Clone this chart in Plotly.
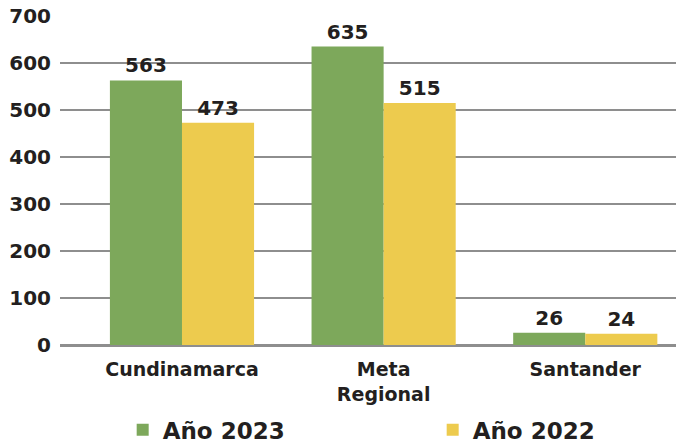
import plotly.graph_objects as go

# Categories and yearly values
categories = ["Cundinamarca", "Meta<br>Regional", "Santander"]
values_2023 = [563, 635, 26]
values_2022 = [473, 515, 24]
series_names = ["Año 2023", "Año 2022"]
y_ticks = [0, 100, 200, 300, 400, 500, 600, 700]

GREEN = "#7DA85B"
YELLOW = "#EDCB4E"
TEXT = "#231F20"
GRID = "#8E8E8E"
FONT = "DejaVu Sans"

fig = go.Figure()
for name, vals, color in [(series_names[0], values_2023, GREEN),
                          (series_names[1], values_2022, YELLOW)]:
    fig.add_trace(go.Bar(
        x=categories, y=vals, name=name,
        marker=dict(color=color, line=dict(width=0)),
        text=[str(v) for v in vals], textposition="outside",
        textfont=dict(family=FONT, size=20, color=TEXT, weight="bold"),
        cliponaxis=False,
    ))

fig.update_layout(
    width=676, height=443,
    margin=dict(l=60, r=0, t=16, b=98, autoexpand=False),
    paper_bgcolor="white", plot_bgcolor="white",
    barmode="group", bargap=0.285, bargroupgap=0,
    showlegend=True,
    legend=dict(
        orientation="h", x=0.605, xanchor="center",
        yref="container", y=0.03, yanchor="middle",
        bgcolor="rgba(0,0,0,0)",
        font=dict(family=FONT, size=23, color=TEXT, weight="bold"),
        entrywidth=265, entrywidthmode="pixels", itemwidth=30,
    ),
    font=dict(family=FONT, color=TEXT),
)
fig.update_xaxes(
    range=[-0.605, 2.45], showgrid=False, showline=False, ticks="",
    tickfont=dict(family=FONT, size=19, color=TEXT, weight="bold"),
    ticklabelstandoff=11, automargin=False,
)
fig.update_yaxes(
    range=[0, 700], tickvals=y_ticks, showgrid=True, gridcolor=GRID, gridwidth=2,
    zeroline=True, zerolinecolor=GRID, zerolinewidth=3, showline=False, ticks="",
    tickfont=dict(family=FONT, size=20, color=TEXT, weight="bold"),
    ticklabelstandoff=8, automargin=False,
)

fig.write_html("out.html")
